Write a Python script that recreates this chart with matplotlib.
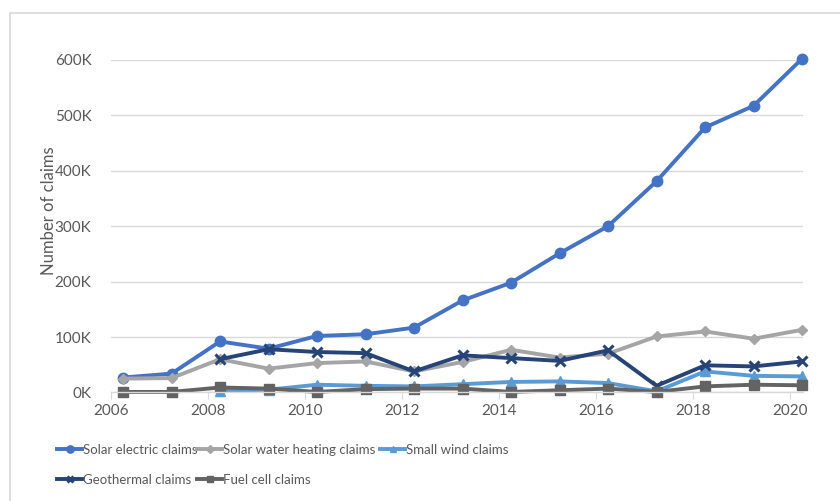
import matplotlib
matplotlib.use("Agg")
import matplotlib.pyplot as plt
from matplotlib.ticker import FuncFormatter

# Claims per tax year (points sit a quarter past the year mark)
years = [2006.25 + i for i in range(15)]

solar_electric = [27000, 34000, 92000, 79000, 102000, 105000, 117000, 166000,
                  198000, 251000, 300000, 381000, 478000, 517000, 602000]
solar_water = [25000, 26000, 60000, 43000, 53000, 56000, 38000, 55000,
               77000, 63000, 70000, 101000, 110000, 97000, 113000]
small_wind = [None, None, 3000, 5000, 14000, 12000, 11000, 15000,
              19000, 20000, 17000, 2000, 38000, 30000, 29000]
geothermal = [None, None, 60000, 78000, 73000, 71000, 38000, 67000,
              62000, 57000, 76000, 12000, 49000, 47000, 56000]
fuel_cell = [1000, 1000, 9000, 7000, 1000, 6000, 7000, 7000,
             1000, 4000, 7000, 1000, 11000, 14000, 13000]

series = [
    ("Solar electric claims", solar_electric, "#4472C4", "o", 7.5),
    ("Solar water heating claims", solar_water, "#A5A5A5", "D", 5.5),
    ("Small wind claims", small_wind, "#5B9BD5", "^", 6.5),
    ("Geothermal claims", geothermal, "#264478", "x", 7),
    ("Fuel cell claims", fuel_cell, "#636363", "s", 6.5),
]

plt.rcParams['font.family'] = ['Lato', 'DejaVu Sans']
grey_txt = "#595959"

fig = plt.figure(figsize=(8.4, 5.01), dpi=100)
ax = fig.add_axes([0.132, 0.2166, 0.824, 0.664])

handles = {}
for name, vals, col, mk, ms in series:
    xs = [x for x, v in zip(years, vals) if v is not None]
    ys = [v for v in vals if v is not None]
    h, = ax.plot(xs, ys, color=col, lw=2.8, marker=mk, ms=ms,
                 mew=2.2 if mk == "x" else 1, mec=col, mfc=col,
                 clip_on=False, label=name)
    handles[name] = h

ax.set_xlim(2006, 2020.27)
ax.set_ylim(0, 600000)
ax.set_xticks(range(2006, 2021, 2))
ax.set_yticks(range(0, 600001, 100000))
ax.yaxis.set_major_formatter(FuncFormatter(lambda v, p: f"{int(v / 1000)}K"))

ax.grid(axis="y", color="#D9D9D9", lw=1)
ax.set_axisbelow(True)
for s in ["top", "right", "left"]:
    ax.spines[s].set_visible(False)
ax.spines["bottom"].set_color("#D9D9D9")
ax.spines["bottom"].set_linewidth(1)
ax.tick_params(axis="y", length=0, pad=14, labelsize=11, labelcolor=grey_txt)
ax.tick_params(axis="x", length=5, color="#D9D9D9", pad=3, labelsize=11,
               labelcolor=grey_txt)

ax.set_ylabel("Number of claims", fontsize=12, color=grey_txt)
ax.yaxis.set_label_coords(-0.078, 0.547)

# legend laid out in fixed columns
cols = [
    (57, ["Solar electric claims", "Geothermal claims"]),
    (197, ["Solar water heating claims", "Fuel cell claims"]),
    (380, ["Small wind claims"]),
]
for px, names in cols:
    fig.legend([handles[n] for n in names], names, loc="upper left",
               bbox_to_anchor=(px / 840, 1 - 444 / 501), frameon=False,
               handlelength=1.9, handletextpad=0.1, borderaxespad=0,
               borderpad=0, labelspacing=1.35, markerscale=0.7,
               prop={"size": 9.5}, labelcolor=grey_txt)

# chart area border
fig.add_artist(plt.Rectangle((10 / 840, -0.1), 1.1, 1 - 13 / 501 + 0.1,
                             transform=fig.transFigure, fill=False,
                             ec="#D9D9D9", lw=1.2))

fig.savefig("out.png", dpi=100)
